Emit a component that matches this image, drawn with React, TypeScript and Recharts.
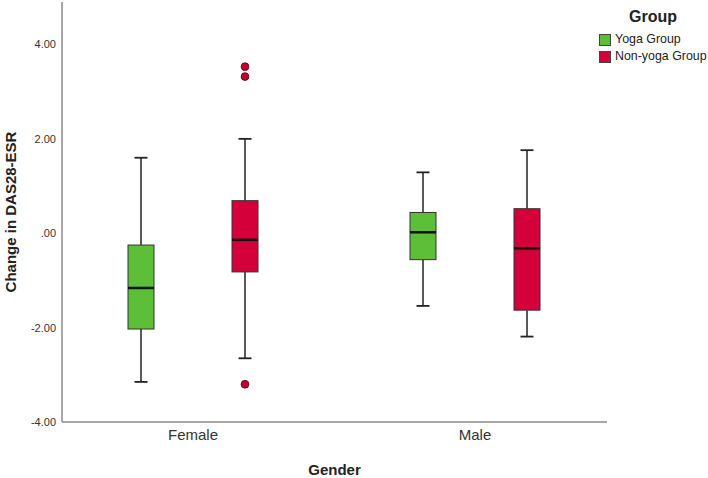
import React from 'react';
import { ComposedChart, Bar, XAxis, YAxis, Legend } from 'recharts';

// ---- data ----
const categories = ['Female', 'Male'];

const yogaLow = [-3.15, -1.54];
const yogaQ1 = [-2.03, -0.56];
const yogaMedian = [-1.16, 0.02];
const yogaQ3 = [-0.25, 0.44];
const yogaHigh = [1.6, 1.29];
const yogaOutliers: number[][] = [[], []];

const nonLow = [-2.65, -2.19];
const nonQ1 = [-0.82, -1.63];
const nonMedian = [-0.14, -0.32];
const nonQ3 = [0.69, 0.52];
const nonHigh = [2.0, 1.76];
const nonOutliers: number[][] = [[3.53, 3.32, -3.2], []];

const yTicks = [-4, -2, 0, 2, 4];
const groupNames = ['Yoga Group', 'Non-yoga Group'];
const groupColors = ['#5dbf38', '#d4003a'];

type Stats = { low: number; q1: number; median: number; q3: number; high: number; outliers: number[] };

const data = categories.map((c, i) => {
  const yoga: Stats = { low: yogaLow[i], q1: yogaQ1[i], median: yogaMedian[i], q3: yogaQ3[i], high: yogaHigh[i], outliers: yogaOutliers[i] };
  const non: Stats = { low: nonLow[i], q1: nonQ1[i], median: nonMedian[i], q3: nonQ3[i], high: nonHigh[i], outliers: nonOutliers[i] };
  const range = (s: Stats) => [Math.min(s.low, ...s.outliers), Math.max(s.high, ...s.outliers)];
  return { gender: c, yoga, non, yogaRange: range(yoga), nonRange: range(non) };
});

const FONT = 'Arial, "Liberation Sans", sans-serif';

const BoxShape = (props: any) => {
  const { x, y, width, height, payload, group, color } = props;
  const s: Stats = payload[group];
  const range: number[] = payload[group + 'Range'];
  const lo = Math.min(range[0], range[1]);
  const hi = Math.max(range[0], range[1]);
  const top = Math.min(y, y + height);
  const h = Math.abs(height);
  const toY = (v: number) => (hi === lo ? top : top + (h * (hi - v)) / (hi - lo));
  const cx = x + width / 2;
  const cap = width / 4;
  const yLow = toY(s.low);
  const yHigh = toY(s.high);
  const yQ1 = toY(s.q1);
  const yQ3 = toY(s.q3);
  const yMed = toY(s.median);
  const wc = '#222';
  return (
    <g>
      <line x1={cx} x2={cx} y1={yHigh} y2={yQ3} stroke={wc} strokeWidth={1.5} />
      <line x1={cx} x2={cx} y1={yQ1} y2={yLow} stroke={wc} strokeWidth={1.5} />
      <line x1={cx - cap} x2={cx + cap} y1={yHigh} y2={yHigh} stroke={wc} strokeWidth={1.8} />
      <line x1={cx - cap} x2={cx + cap} y1={yLow} y2={yLow} stroke={wc} strokeWidth={1.8} />
      <rect x={x} y={yQ3} width={width} height={yQ1 - yQ3} fill={color} stroke="#333" strokeWidth={1} />
      <line x1={x} x2={x + width} y1={yMed} y2={yMed} stroke="#111" strokeWidth={2.5} />
      {s.outliers.map((o, k) => (
        <circle key={k} cx={cx} cy={toY(o)} r={3.9} fill="#c0002f" stroke="#5a0012" strokeWidth={0.8} />
      ))}
    </g>
  );
};

const fmt = (v: number) => {
  if (v === 0) return '.00';
  return v.toFixed(2);
};

const renderLegend = () => (
  <div style={{ position: 'relative', width: 118, height: 70, fontFamily: FONT }}>
    <div style={{ position: 'absolute', left: 0, top: 7, width: 126, textAlign: 'center', fontWeight: 'bold', fontSize: 16, color: '#222', lineHeight: '20px' }}>
      Group
    </div>
    {groupNames.map((n, i) => (
      <div key={n} style={{ position: 'absolute', left: 9, top: 33 + i * 17, height: 13, display: 'flex', alignItems: 'center' }}>
        <div style={{ width: 12, height: 12, background: groupColors[i], border: '1px solid #444', boxSizing: 'border-box', flexShrink: 0 }} />
        <span style={{ marginLeft: 4, fontSize: 12.4, color: '#222', whiteSpace: 'nowrap', lineHeight: '13px' }}>{n}</span>
      </div>
    ))}
  </div>
);

const YLabel = (props: any) => {
  const vb = props.viewBox || {};
  const cx = 10;
  const cy = (vb.y ?? 0) + (vb.height ?? 0) / 2;
  return (
    <text x={cx} y={cy} transform={`rotate(-90 ${cx} ${cy})`} textAnchor="middle" dominantBaseline="central"
      fontFamily={FONT} fontWeight="bold" fontSize={15} fill="#222">
      Change in DAS28-ESR
    </text>
  );
};

export default function App() {
  return (
    <div style={{ position: 'absolute', left: 0, top: 0, width: 708, height: 478, background: '#fff' }}>
      <ComposedChart width={708} height={478} data={data} margin={{ top: 2, right: 101, bottom: 0, left: 0 }} barSize={26} barGap={78}>
        <XAxis
          dataKey="gender"
          type="category"
          height={56}
          padding={{ left: -10, right: -9 }}
          axisLine={{ stroke: '#8a8a8a', strokeWidth: 1.5 }}
          tickLine={false}
          tickSize={5}
          tickMargin={2}
          tick={{ fontFamily: FONT, fontSize: 15, fill: '#333' }}
          label={{ value: 'Gender', position: 'insideBottom', offset: 3, fontFamily: FONT, fontWeight: 'bold', fontSize: 15, fill: '#222' }}
        />
        <YAxis
          type="number"
          domain={[-4, 4.9]}
          ticks={yTicks}
          tickFormatter={fmt}
          width={62}
          axisLine={{ stroke: '#8a8a8a', strokeWidth: 1.5 }}
          tickLine={false}
          tickSize={4}
          tickMargin={2}
          tick={{ fontFamily: FONT, fontSize: 11, fill: '#333' }}
          label={<YLabel />}
        />
        <Legend content={renderLegend} layout="horizontal" verticalAlign="middle" align="center" wrapperStyle={{ position: 'absolute', left: 590, top: 0, width: 118, height: 70 }} />
        <Bar dataKey="yogaRange" name={groupNames[0]} fill={groupColors[0]} isAnimationActive={false}
          shape={(p: any) => <BoxShape {...p} group="yoga" color={groupColors[0]} />} />
        <Bar dataKey="nonRange" name={groupNames[1]} fill={groupColors[1]} isAnimationActive={false}
          shape={(p: any) => <BoxShape {...p} group="non" color={groupColors[1]} />} />
      </ComposedChart>
    </div>
  );
}
